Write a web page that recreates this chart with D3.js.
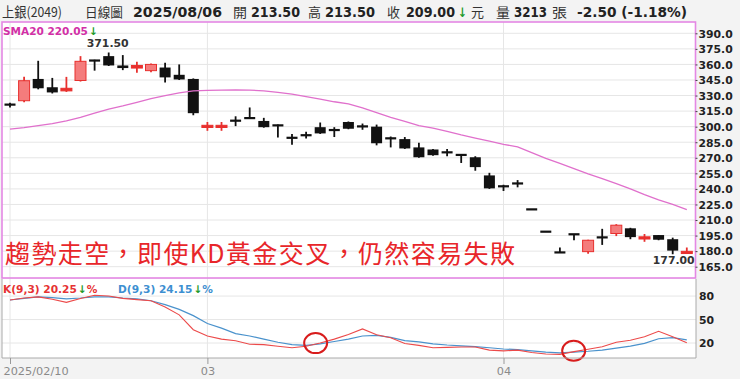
<!DOCTYPE html>
<html>
<head>
<meta charset="utf-8">
<script src="https://cdn.jsdelivr.net/npm/d3@7"></script>
<style>
  body { margin: 0; background: #f3f3f3; }
  svg { display: block; }
</style>
</head>
<body>
<div id="chart"></div>
<script>
// 日期（交易日）
const dates = [
  "2025/02/10","2025/02/11","2025/02/12","2025/02/13","2025/02/14",
  "2025/02/17","2025/02/18","2025/02/19","2025/02/20","2025/02/21",
  "2025/02/24","2025/02/25","2025/02/26","2025/02/27",
  "2025/03/03","2025/03/04","2025/03/05","2025/03/06","2025/03/07",
  "2025/03/10","2025/03/11","2025/03/12","2025/03/13","2025/03/14",
  "2025/03/17","2025/03/18","2025/03/19","2025/03/20","2025/03/21",
  "2025/03/24","2025/03/25","2025/03/26","2025/03/27","2025/03/28",
  "2025/03/31",
  "2025/04/01","2025/04/02","2025/04/07","2025/04/08","2025/04/09",
  "2025/04/10","2025/04/11","2025/04/14","2025/04/15","2025/04/16",
  "2025/04/17","2025/04/18","2025/04/21","2025/04/22"
];
const opens  = [321.5,325,346,338,334.5,344.5,364,368,359,356.5,354,357,350,346,
  300,300,306,308.5,305.5,301.5,289.5,292,299.5,297,304.5,300.5,300,289,288,280,
  278,275.5,273,270.5,253,243,245.5,220.5,199,179,196.5,179.5,193.5,197,202,192.5,195.5,191.5,178.5];
const highs  = [323,348,363.5,347,348,368,364.5,371.5,369,362.5,361,361.5,360,346.5,
  304.5,304.5,310,318.5,308.5,302,293,295,304,299.5,305,303,302,290.5,290,284.5,
  278.5,278.5,273,271.5,255.5,244,248.5,220.5,199,183.5,196.5,191,201.5,206,202.5,196.5,195.5,193,183.5];
const lows   = [318.5,323.5,336,332,333.5,343.5,354,358.5,354.5,352,352.5,342.5,345,311,
  296,296,300.5,307.5,299,289.5,282.5,288.5,293,290,297.5,297,282,280,278.5,270,
  272,271.5,265,257.5,240,238,241.5,220,198.5,178.5,190.5,177.5,186,194.5,191.5,189,190.5,177,177.5];
const closes = [321,344.3,337,333,337,363,363.5,359,356.5,359,360,347.5,345.5,313,
  300.5,300.5,305.5,308,299.5,301,289,291.5,293.5,296.5,298,300,284,288.5,279,270.5,
  272.5,275,272.5,261,240.5,242,245,220,198.5,178.5,196,190.5,193,205,193.5,193,191,180.5,179];
const sma20 = [297.7,299,301,303,305.5,309,313,317,320,323.5,327,330,332.5,334.5,
  335,335.3,335.5,335.3,334.5,333,331.3,329,326.5,324,322,318,313.5,309,305,301,
  298.5,295.5,292,289,286,283,280.5,275,269.5,264.5,259.5,254.5,250,245,240,234.5,229.5,225,220];
const kValues = [75,77.5,79,76,72,77,81,80,77,75.5,74,66,56,37,
  29,25,23,18.5,18,16,14,16,20,25,31,38,30.5,26.8,19.5,17,
  14,14.5,15,15,11,10,11,8,6,5.5,9,12,15.3,21,23.5,28,35,28,20.25];
const dValues = [75,77,79,78,76.5,77.5,79,79,77.5,76.5,74,69,63,55,
  45,39,32,29,25,21,18,17,19,22,25,29,29.8,27.3,23,21.5,
  19,17.5,16.5,15.5,14,12.4,11.5,10,8.5,7.5,8.5,9.5,11,13.5,16,19.5,25.5,26.8,24.15];
const smaLast = 220.05;

const priceTicks = [390,375,360,345,330,315,300,285,270,255,240,225,210,195,180,165];
const kdTicks = [80,50,20];
const dateTicks = ["2025/02/10","2025/03/03","2025/04/01"];
const dateTickLabels = ["2025/02/10","03","04"];
// 圈起來的黃金交叉（交叉發生在此日與下一日之間）
const crossDates = ["2025/03/12","2025/04/09"];

const width = 740, height = 379;
const numFont = "'DejaVu Sans', Verdana, sans-serif";
const cjkFont = "'Noto Sans CJK TC', 'Noto Sans', sans-serif";

const svg = d3.select("#chart").append("svg")
  .attr("width", width).attr("height", height);

svg.append("rect").attr("width", width).attr("height", height).attr("fill", "#f3f3f3");

const x = d3.scalePoint().domain(dates).range([10, 686.8]);
const y = d3.scaleLinear().domain([154.1, 400.9]).range([278, 22]);
const yk = d3.scaleLinear().domain([0, 100]).range([358.7, 280.4]);
const bodyW = x.step() * 0.78;

// 面板底色
svg.append("rect").attr("x", 2).attr("y", 22).attr("width", 693.5).attr("height", 256).attr("fill", "#fff");
svg.append("rect").attr("x", 2).attr("y", 279).attr("width", 694).attr("height", 79).attr("fill", "#fff");

// 格線
svg.append("g").selectAll("line").data(priceTicks).join("line")
  .attr("x1", 2).attr("x2", 695.5)
  .attr("y1", d => y(d)).attr("y2", d => y(d))
  .attr("stroke", "#e6e6e6");
svg.append("g").selectAll("line").data(kdTicks).join("line")
  .attr("x1", 2).attr("x2", 696)
  .attr("y1", d => yk(d)).attr("y2", d => yk(d))
  .attr("stroke", "#e6e6e6");
svg.append("g").selectAll("line").data(dateTicks).join("line")
  .attr("x1", d => x(d)).attr("x2", d => x(d))
  .attr("y1", 22).attr("y2", 358)
  .attr("stroke", "#e6e6e6");

// K線
const candles = dates.map((d, i) => ({date: d, o: opens[i], h: highs[i], l: lows[i], c: closes[i]}));
const up = d => d.c > d.o;
const candleColor = d => up(d) ? "#e8302e" : "#111";

const cg = svg.append("g");
cg.selectAll("line.wick").data(candles).join("line")
  .attr("class", "wick")
  .attr("x1", d => x(d.date)).attr("x2", d => x(d.date))
  .attr("y1", d => y(d.h)).attr("y2", d => y(d.l))
  .attr("stroke", candleColor).attr("stroke-width", 1.8);
cg.selectAll("rect.body").data(candles).join("rect")
  .attr("class", "body")
  .attr("x", d => x(d.date) - bodyW / 2)
  .attr("width", bodyW)
  .attr("y", d => {
    const top = y(Math.max(d.o, d.c)), bot = y(Math.min(d.o, d.c));
    return bot - top < 2.2 ? (top + bot) / 2 - 1.1 : top;
  })
  .attr("height", d => Math.max(2.2, y(Math.min(d.o, d.c)) - y(Math.max(d.o, d.c))))
  .attr("fill", d => {
    const h = y(Math.min(d.o, d.c)) - y(Math.max(d.o, d.c));
    if (!up(d)) return "#111";
    return h < 3 ? "#e8302e" : "#f47c7c";
  })
  .attr("stroke", d => up(d) ? "#e8302e" : "none")
  .attr("stroke-width", 1);

// SMA20
svg.append("path")
  .datum(sma20)
  .attr("fill", "none")
  .attr("stroke", "#e070cc")
  .attr("stroke-width", 1.3)
  .attr("d", d3.line().x((d, i) => x(dates[i])).y(d => y(d)));

// 主圖外框
svg.append("rect").attr("x", 2).attr("y", 22).attr("width", 693.5).attr("height", 256)
  .attr("fill", "none").attr("stroke", "#e488e4").attr("stroke-width", 1.6);

// 價格軸
const yAxis = svg.append("g")
  .attr("transform", "translate(695.5,0)")
  .call(d3.axisRight(y).tickValues(priceTicks).tickFormat(d3.format(".1f")).tickSize(2).tickPadding(1));
yAxis.select(".domain").remove();
yAxis.selectAll("line").attr("stroke", "#444");
yAxis.selectAll("text")
  .attr("font-family", numFont).attr("font-weight", "bold")
  .attr("font-size", "10.8px").attr("fill", "#222").attr("dy", "0.35em");

// 最高 / 最低標示
const hiIdx = d3.maxIndex(highs), loIdx = d3.minIndex(lows);
svg.append("text")
  .attr("x", x(dates[hiIdx]) - 1).attr("y", y(highs[hiIdx]) - 5)
  .attr("text-anchor", "middle")
  .attr("font-family", numFont).attr("font-weight", "bold").attr("font-size", "10.9px")
  .attr("fill", "#333").text(d3.format(".2f")(highs[hiIdx]));
svg.append("text")
  .attr("x", x(dates[loIdx]) + 1).attr("y", y(lows[loIdx]) + 10)
  .attr("text-anchor", "middle")
  .attr("font-family", numFont).attr("font-weight", "bold").attr("font-size", "10.8px")
  .attr("fill", "#333").text(d3.format(".2f")(lows[loIdx]));

// SMA 標籤
const smaLbl = svg.append("text").attr("x", 3).attr("y", 35)
  .attr("font-family", numFont).attr("font-weight", "bold").attr("font-size", "10.5px");
smaLbl.append("tspan").attr("fill", "#d22fa6").text("SMA20 " + d3.format(".2f")(smaLast));
smaLbl.append("tspan").attr("fill", "#229a2a").attr("dx", 1).text("↓");

// 註解文字
svg.append("text")
  .attr("x", 5).attr("y", 263)
  .attr("font-family", cjkFont).attr("font-size", "25px")
  .attr("fill", "#e8262a")
  .attr("textLength", 510).attr("lengthAdjust", "spacing")
  .text("趨勢走空，即使KD黃金交叉，仍然容易失敗");

// KD 線
const kdLine = d3.line().x((d, i) => x(dates[i])).y(d => yk(d));
svg.append("path").datum(dValues)
  .attr("fill", "none").attr("stroke", "#4a92cc").attr("stroke-width", 1.2).attr("d", kdLine);
svg.append("path").datum(kValues)
  .attr("fill", "none").attr("stroke", "#ec4a4a").attr("stroke-width", 1.1).attr("d", kdLine);

// 黃金交叉圈：在 K、D 線交會處
const crosses = crossDates.map(d => {
  const i = dates.indexOf(d);
  const d0 = kValues[i] - dValues[i], d1 = kValues[i + 1] - dValues[i + 1];
  const t = d0 / (d0 - d1);
  const v = kValues[i] + (kValues[i + 1] - kValues[i]) * t;
  return {cx: x(d) + x.step() * t, cy: yk(v)};
});
svg.append("g").selectAll("ellipse").data(crosses).join("ellipse")
  .attr("cx", d => d.cx + 2.5)
  .attr("cy", d => d.cy - 1.5)
  .attr("rx", 11.5).attr("ry", 10)
  .attr("fill", "none").attr("stroke", "#d81c1c").attr("stroke-width", 2);

// KD 外框
svg.append("path")
  .attr("d", "M2,279V358H696V279")
  .attr("fill", "none").attr("stroke", "#aaa").attr("stroke-width", 1);

// KD 軸
const kAxis = svg.append("g")
  .attr("transform", "translate(696,0)")
  .call(d3.axisRight(yk).tickValues(kdTicks).tickSize(0).tickPadding(3));
kAxis.select(".domain").remove();
kAxis.selectAll("text")
  .attr("font-family", numFont).attr("font-weight", "bold")
  .attr("font-size", "10.8px").attr("fill", "#222");

// KD 標籤
const kLbl = svg.append("text").attr("x", 3).attr("y", 293)
  .attr("font-family", numFont).attr("font-weight", "bold").attr("font-size", "10.6px");
kLbl.append("tspan").attr("fill", "#e63232").text("K(9,3) " + d3.format(".2f")(kValues[kValues.length - 1]));
kLbl.append("tspan").attr("fill", "#229a2a").attr("dx", 1).text("↓");
kLbl.append("tspan").attr("fill", "#e63232").text("%");
const dLbl = svg.append("text").attr("x", 118).attr("y", 293)
  .attr("font-family", numFont).attr("font-weight", "bold").attr("font-size", "10.6px");
dLbl.append("tspan").attr("fill", "#3d8fd1").text("D(9,3) " + d3.format(".2f")(dValues[dValues.length - 1]));
dLbl.append("tspan").attr("fill", "#229a2a").attr("dx", 1).text("↓");
dLbl.append("tspan").attr("fill", "#3d8fd1").text("%");

// 日期軸
const xAxis = svg.append("g")
  .attr("transform", "translate(0,358)")
  .call(d3.axisBottom(x).tickValues(dateTicks)
    .tickFormat(d => dateTickLabels[dateTicks.indexOf(d)]).tickSize(6).tickPadding(3));
xAxis.select(".domain").remove();
xAxis.selectAll("line").attr("stroke", "#999");
xAxis.selectAll("text")
  .attr("font-family", numFont).attr("font-size", "11.3px").attr("fill", "#8a8a8a");
xAxis.selectAll("text").filter(d => d === dateTicks[0])
  .attr("text-anchor", "start").attr("dx", -7);

// 表頭
const header = [
  {t: "上銀(2049)", x: 2, w: 60, f: cjkFont, b: false, c: "#333", s: 13.5},
  {t: "日線圖", x: 85, w: 38, f: cjkFont, b: false, c: "#333", s: 13},
  {t: "2025/08/06", x: 133, w: 89, f: numFont, b: true, c: "#222", s: 14},
  {t: "開", x: 233, w: 14, f: cjkFont, b: false, c: "#333", s: 13},
  {t: "213.50", x: 251, w: 49, f: numFont, b: true, c: "#222", s: 13.5},
  {t: "高", x: 308, w: 13, f: cjkFont, b: false, c: "#333", s: 13},
  {t: "213.50", x: 325, w: 50, f: numFont, b: true, c: "#222", s: 13.5},
  {t: "收", x: 387, w: 13, f: cjkFont, b: false, c: "#333", s: 13},
  {t: "209.00", x: 406, w: 49, f: numFont, b: true, c: "#222", s: 13.5},
  {t: "↓", x: 458, w: 9, f: numFont, b: true, c: "#229a2a", s: 13},
  {t: "元", x: 471, w: 13, f: cjkFont, b: false, c: "#333", s: 13},
  {t: "量", x: 496, w: 14, f: cjkFont, b: false, c: "#333", s: 13},
  {t: "3213", x: 514, w: 33, f: numFont, b: true, c: "#222", s: 13.5},
  {t: "張", x: 552, w: 15, f: cjkFont, b: false, c: "#333", s: 13},
  {t: "-2.50 (-1.18%)", x: 577, w: 110, f: numFont, b: true, c: "#222", s: 13.5}
];
svg.append("g").selectAll("text").data(header).join("text")
  .attr("x", d => d.x).attr("y", 17)
  .attr("font-family", d => d.f)
  .attr("font-weight", d => d.b ? "bold" : "normal")
  .attr("font-size", d => d.s + "px")
  .attr("fill", d => d.c)
  .attr("textLength", d => d.w).attr("lengthAdjust", "spacingAndGlyphs")
  .text(d => d.t);
</script>
</body>
</html>
